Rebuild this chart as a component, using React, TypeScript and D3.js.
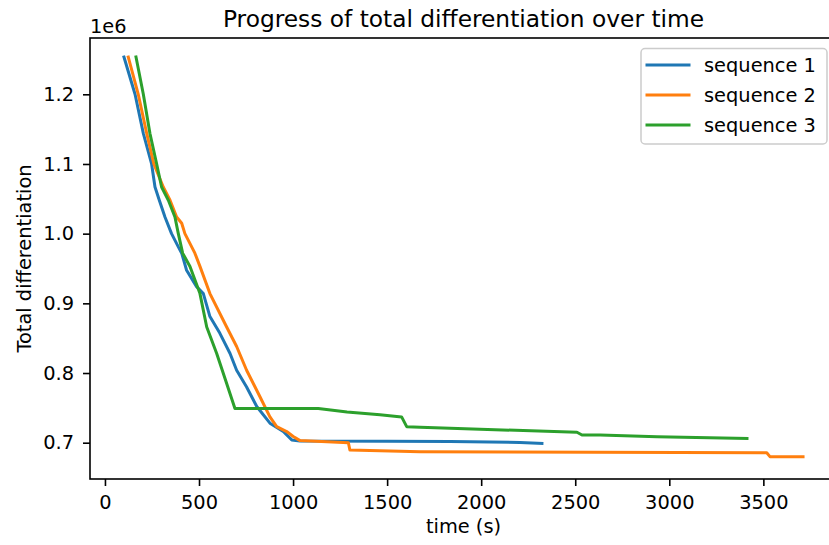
import React, { useEffect, useRef } from "react";
import * as d3 from "d3";

// values (time in s, total differentiation)
const seq1Time = [101, 160, 204, 248, 266, 289, 319, 354, 390, 408, 434, 487, 523, 558, 611, 665, 700, 753, 807, 877, 948, 993, 1037, 1500, 1834, 2206, 2323];
const seq1Value = [1.2535, 1.2, 1.144, 1.1, 1.067, 1.048, 1.024, 1.0, 0.981, 0.972, 0.9475, 0.924, 0.914, 0.881, 0.857, 0.828, 0.804, 0.78, 0.752, 0.728, 0.716, 0.704, 0.7024, 0.702, 0.7017, 0.7003, 0.699];

const seq2Time = [124, 177, 222, 260, 310, 346, 381, 408, 425, 478, 505, 558, 647, 700, 753, 824, 877, 913, 966, 1001, 1037, 1294, 1302, 1675, 3518, 3535, 3711];
const seq2Value = [1.2535, 1.2, 1.144, 1.1, 1.067, 1.048, 1.024, 1.015, 1.0, 0.972, 0.953, 0.914, 0.866, 0.838, 0.804, 0.766, 0.737, 0.723, 0.716, 0.709, 0.703, 0.7, 0.6895, 0.687, 0.6855, 0.68, 0.68];

const seq3Time = [165, 204, 239, 275, 301, 337, 372, 390, 413, 452, 505, 541, 594, 647, 691, 1134, 1287, 1462, 1577, 1604, 1675, 2509, 2536, 2632, 2935, 3413];
const seq3Value = [1.2535, 1.2, 1.144, 1.1, 1.067, 1.048, 1.024, 1.0, 0.972, 0.953, 0.914, 0.866, 0.828, 0.785, 0.749, 0.749, 0.744, 0.74, 0.737, 0.723, 0.722, 0.715, 0.711, 0.711, 0.7086, 0.706];

const seriesNames = ["sequence 1", "sequence 2", "sequence 3"];
const seriesColors = ["#1f77b4", "#ff7f0e", "#2ca02c"];
const xTicks = [0, 500, 1000, 1500, 2000, 2500, 3000, 3500];
const yTicks = [0.7, 0.8, 0.9, 1.0, 1.1, 1.2];

const W = 829;
const H = 545;
const left = 90;
const right = 837; // right spine falls just outside the picture
const top = 38;
const bottom = 479;
const font = "DejaVu Sans, sans-serif";
const fs = 19.4;

export default function App() {
  const xAxisRef = useRef<SVGGElement>(null);
  const yAxisRef = useRef<SVGGElement>(null);

  const x = d3.scaleLinear().domain([-79.5, 3891.5]).range([left, right]);
  const y = d3.scaleLinear().domain([0.6479, 1.2808]).range([bottom, top]);

  const series = [
    seq1Time.map((t, i) => [t, seq1Value[i]]),
    seq2Time.map((t, i) => [t, seq2Value[i]]),
    seq3Time.map((t, i) => [t, seq3Value[i]]),
  ];

  const line = d3
    .line<number[]>()
    .x((d) => x(d[0]))
    .y((d) => y(d[1]));

  useEffect(() => {
    const styleAxis = (g: any) => {
      g.select(".domain").remove();
      g.selectAll(".tick line").attr("stroke", "#000").attr("stroke-width", 1.6);
      g.selectAll(".tick text")
        .attr("fill", "#000")
        .style("font-family", font)
        .style("font-size", `${fs}px`);
    };

    d3.select(xAxisRef.current)
      .call(d3.axisBottom(x).tickValues(xTicks).tickSize(7).tickPadding(9).tickFormat(d3.format("d")) as any)
      .call(styleAxis);

    d3.select(yAxisRef.current)
      .call(d3.axisLeft(y).tickValues(yTicks).tickSize(7).tickPadding(9).tickFormat(d3.format(".1f")) as any)
      .call(styleAxis);
  }, []);

  return (
    <svg
      width={W}
      height={H}
      style={{ position: "absolute", left: 0, top: 0, background: "#fff" }}
      fontFamily={font}
    >
      <defs>
        <clipPath id="plot">
          <rect x={left} y={top} width={right - left} height={bottom - top} />
        </clipPath>
      </defs>

      <g clipPath="url(#plot)">
        {series.map((s, i) => (
          <path
            key={i}
            d={line(s) || ""}
            fill="none"
            stroke={seriesColors[i]}
            strokeWidth={3}
            strokeLinejoin="round"
            strokeLinecap="square"
          />
        ))}
      </g>

      {/* spines */}
      <rect x={left} y={top} width={right - left} height={bottom - top} fill="none" stroke="#000" strokeWidth={1.6} />

      <g ref={xAxisRef} transform={`translate(0,${bottom})`} />
      <g ref={yAxisRef} transform={`translate(${left},0)`} />

      <text x={left} y={33} fontSize={fs} fill="#000">1e6</text>

      <text x={(left + right) / 2} y={27} textAnchor="middle" fontSize={23.3} fill="#000">
        Progress of total differentiation over time
      </text>
      <text x={(left + right) / 2} y={533} textAnchor="middle" fontSize={fs} fill="#000">
        time (s)
      </text>
      <text
        transform={`translate(31,${(top + bottom) / 2}) rotate(-90)`}
        textAnchor="middle"
        fontSize={fs}
        fill="#000"
      >
        Total differentiation
      </text>

      {/* legend */}
      <g>
        <rect x={641} y={48.5} width={186} height={95.5} rx={4} fill="#fff" fillOpacity={0.8} stroke="#cccccc" strokeWidth={1.5} />
        {seriesNames.map((name, i) => {
          const cy = 65 + i * 30;
          return (
            <g key={name}>
              <line x1={647} x2={689} y1={cy} y2={cy} stroke={seriesColors[i]} strokeWidth={3} strokeLinecap="square" />
              <text x={704} y={cy + 7.4} fontSize={fs} fill="#000">{name}</text>
            </g>
          );
        })}
      </g>
    </svg>
  );
}
